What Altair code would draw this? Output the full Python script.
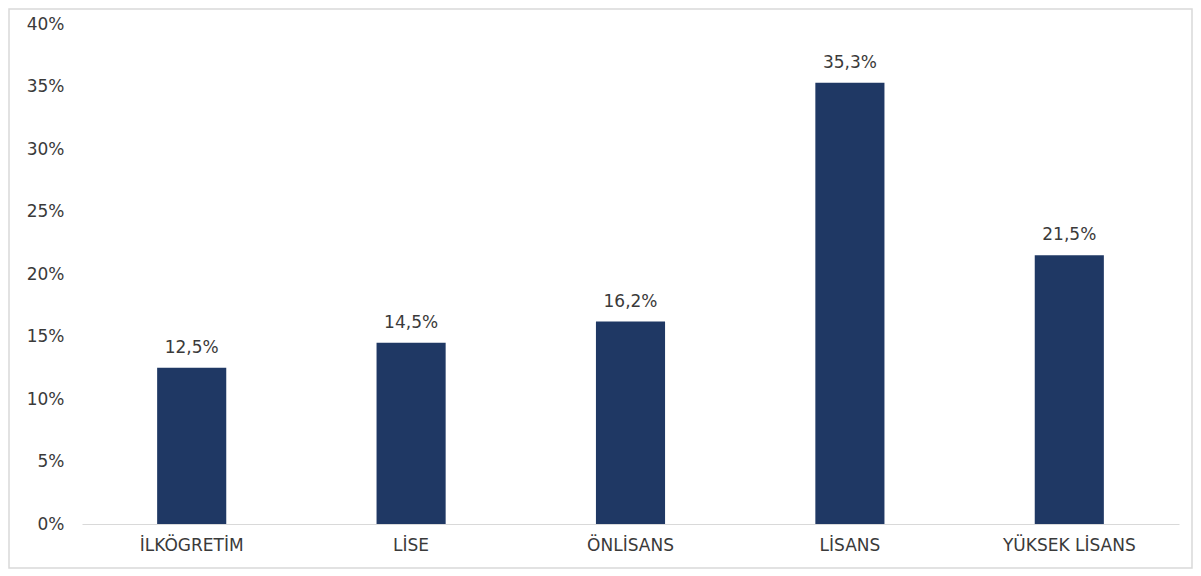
import altair as alt
import pandas as pd

categories = ["İLKÖGRETİM", "LİSE", "ÖNLİSANS", "LİSANS", "YÜKSEK LİSANS"]
values = [12.5, 14.5, 16.2, 35.3, 21.5]

df = pd.DataFrame({"cat": categories, "val": values})
df["label"] = [f"{v:.1f}%".replace(".", ",") for v in values]

W, H = 1097, 500
FONT = "DejaVu Sans"
TXT = "#3a3a3a"
FS = 17

x = alt.X("cat:N", sort=categories, title=None,
          scale=alt.Scale(paddingInner=0, paddingOuter=0),
          axis=alt.Axis(labelAngle=0, ticks=False, domainColor="#d9d9d9",
                        labelFontSize=FS, labelColor=TXT, labelFont=FONT,
                        labelPadding=13, domainWidth=1.2))
y = alt.Y("val:Q", title=None,
          scale=alt.Scale(domain=[0, 40]),
          axis=alt.Axis(values=[0, 5, 10, 15, 20, 25, 30, 35, 40], grid=False,
                        domain=False, ticks=False, labelExpr="datum.value + '%'",
                        labelFontSize=FS, labelColor=TXT, labelFont=FONT,
                        labelPadding=18))

bars = alt.Chart(df).mark_bar(color="#1F3864", width=alt.RelativeBandSize(0.315)).encode(x=x, y=y)
text = alt.Chart(df).mark_text(dy=-11, baseline="bottom", fontSize=FS, color=TXT, font=FONT).encode(
    x=alt.X("cat:N", sort=categories), y="val:Q", text="label:N")

border = alt.Chart(pd.DataFrame({"a": [0]})).mark_rect(fill=None, stroke="#d9d9d9", strokeWidth=1.5).encode(
    x=alt.value(-73), x2=alt.value(W + 13), y=alt.value(-15), y2=alt.value(H + 44))

chart = alt.layer(border, bars, text).properties(
    width=W, height=H,
    background="white",
    autosize=alt.AutoSizeParams(type="none"),
    padding={"left": 74, "top": 16, "right": 14, "bottom": 45},
).configure_view(strokeWidth=0, stroke="transparent")

chart.save("out.html", embed_options={"renderer": "svg", "actions": False})
